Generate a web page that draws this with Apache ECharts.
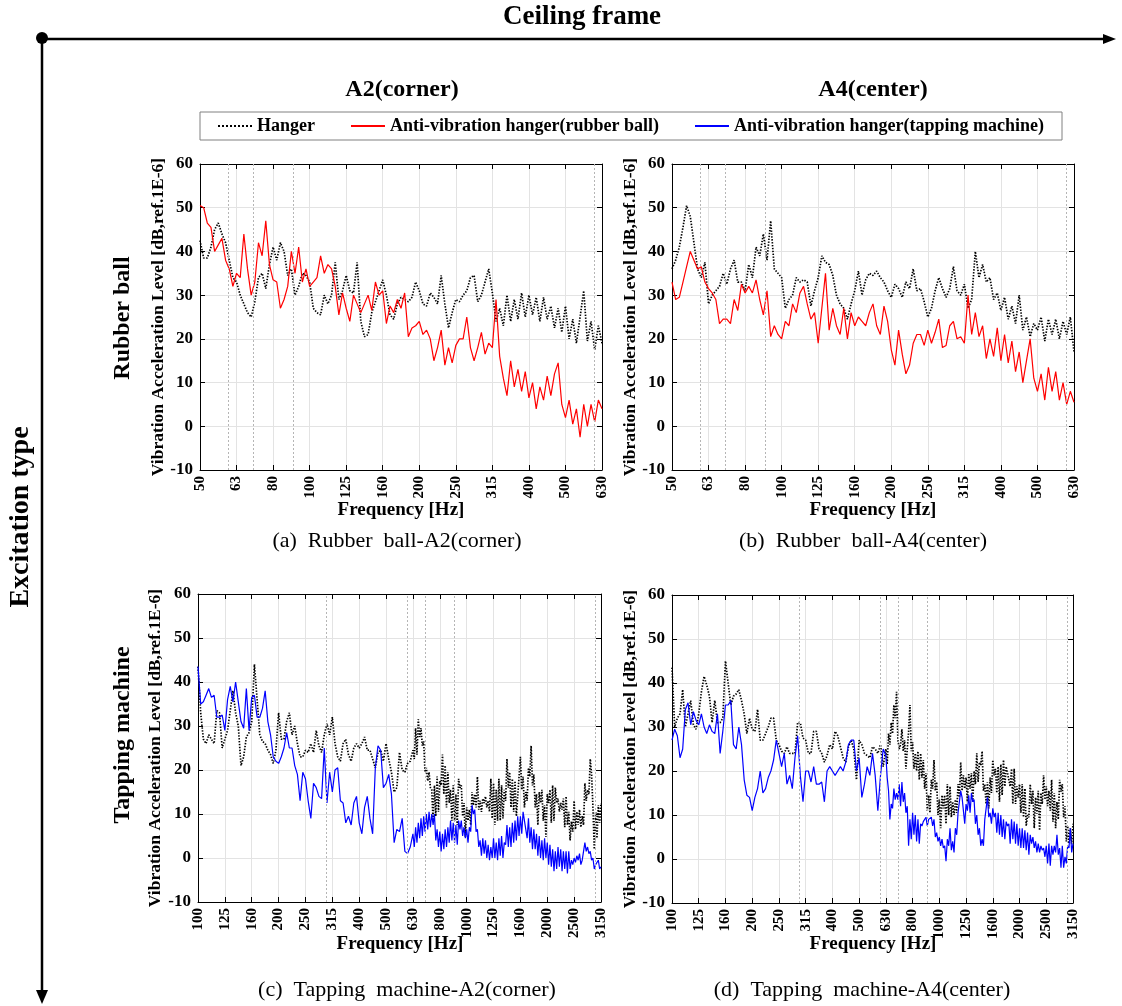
<!DOCTYPE html>
<html><head><meta charset="utf-8">
<script src="https://cdn.jsdelivr.net/npm/echarts@6/dist/echarts.min.js"></script>
<style>html,body{margin:0;padding:0;background:#fff}#c{width:1122px;height:1006px}</style>
</head><body><div id="c"></div>
<script>
// Tick labels (1/3-octave centre frequencies)
const ticksRubber = ['50','63','80','100','125','160','200','250','315','400','500','630'];
const ticksTapping = ['100','125','160','200','250','315','400','500','630','800','1000','1250','1600','2000','2500','3150'];
// minor (dotted) log-grid frequencies, Hz
const minorRubber = [60,70,90,600];
const minorTapping = [300,600,700,900,3000];
// values are read at evenly spaced positions inside each 1/3-octave band
const LOW_PER_BAND = 10;      // samples per band (whole top panels, bottom panels below 630 Hz)
const HIGH_PER_BAND = 20;     // samples per band (bottom panels from 630 Hz)
const HIGH_FROM_BAND = 8;     // band index of 630 Hz on the 100-3150 Hz axis

const seriesNames = ['Hanger','Anti-vibration hanger(rubber ball)','Anti-vibration hanger(tapping machine)'];

// (a) Rubber ball - A2(corner)
const aHanger = [42.5,38.5,38.5,41,45,46.5,44,42,38,34,
 33,30,28,26,25,28.5,34,35,31.5,37,
 41,38,42,40,34.5,36,30,32,35,34.5,
 33,27,26,25.5,30,28,30,37.5,29,31,
 34.5,31,30.5,37.5,24,20.5,21,26,28.5,31,
 33.5,30,25.5,24.5,28,29.5,29,28.5,29.5,33,
 31,28,27.5,30.5,29.5,28,34.5,28,22.5,26,
 29,28.5,30,31,34,34.5,28.5,30,33,36,
 30.5,24,27,23,30,24,29,24.5,30.5,25,
 30,25.5,29.5,24,29.5,24.5,27.5,22.5,27,21.5,
 27.5,20,24.5,19,25,31,19.5,24,17.5,23,
 19];
const aRubber = [50.5,50,46.5,45.5,40,41.5,43,38,36,32,
 35,34,44,36,30,33,42,39,47,37,
 33.5,33,27,29,32,40,35,41,33,36,
 32,33,34,39,35,37,36,32,25.5,30.5,
 27,24,30,28,26,28,30,26.5,33,30,
 31,23.5,27.5,26,29,27,30.5,20.5,22.5,23,
 24,21,22,20,15,18,22,14,18,14.5,
 18.5,20,20,25,18,15,18,21.5,16.5,19,
 18,29,16,11,7,15,9,13,8,12.5,
 6.5,10,4,9,6,11.5,7,12,14.5,5,
 2,6,0.5,4,-2.5,5,0,5,1,6,
 4];
// (b) Rubber ball - A4(center)
const bHanger = [36,38,41,45.5,50.5,48,42,36,34,37.5,
 28,30,31,32,35,32.5,36,38,33,33,
 31,37,34,41,39,44,38,47,36,35,
 34,27,29,30,34,33,33.5,33,27.5,31,
 34,39,37.5,37,34.5,30,28,27,24.5,28,
 31,35.5,30,33.5,35,34.5,35.5,34,33,31,
 29.5,32.5,31.5,29.5,33,31.5,36,31,31.5,28.5,
 25,27,31,34,31.5,29.5,31.5,36.5,31,30,
 32.5,27,29,40,34,37,33,34,29,30.5,
 26.5,29.5,24.5,27.5,23.5,30,22,25,20.5,23.5,
 22,25,19.5,24.5,21,24.5,20,24,21,25,
 17];
const bRubber = [33,29,29.5,33,36.5,40,38,36,36.5,33,
 31.5,30.5,29,23.5,24.5,24.5,23.5,29,26.5,32.5,
 30.5,32,30.5,33.5,29,25.5,31,20.5,23,21,
 20,24,23,28,26,30.5,32,28,24.5,26,
 19,27,35,22,27,23,21,27,20,26,
 23,25,24,23,26,28,23,21,27.5,24,
 17.5,14,22,16.5,12,14,19,21,21,18.5,
 22,19,21.5,24.5,18,18.5,23,24,20,20.5,
 19,30,21,26,20.5,23,15.5,20,16,22.5,
 15,21,14.5,19.5,12.5,17,10,15,20,11,
 8,12,6,13.5,8,12.5,6,10,5,8,
 5.5];
// (c) Tapping machine - A2(corner): 100-630 Hz part and 630-3150 Hz part
const cHangerLow = [43.5,33,27,26,28,27,26,33.5,33,25,
 27,29,33.5,38,33,30,21,23,27.5,28.5,
 31,44,36,28,26.5,26,24.5,23.5,21.5,24.5,
 33,27,27,31,33,28,30,26,23,23,
 24.5,24,26,24,29,25.5,24,28,30.5,28,
 32,26,23,22,26,27,23.5,22,25,26,
 25,26,27.5,24.5,24.5,22.5,20.5,24,24.5,22,
 26,22.5,19.5,15,16,24,20,19.5,21.5,22];
const cHangerHigh = [24.5,22.5,29.5,23.5,31.5,27.5,29.5,25.5,26.5,19.5,
 20.5,17.5,19.5,16,15.5,8.5,16.5,9.5,18.5,10.5,
 17.5,16.5,23.5,14.5,21,11.5,19.5,12.5,15.5,8.5,
 16.5,8.5,14.5,7.5,18,16,16.5,9.5,12.5,4.8,
 11.5,8.5,11,7.5,15,12,14.5,11.5,18.5,11,
 13,10.5,13.5,12.5,14,11.5,13,10.5,18,9,
 17,7.5,15.5,8.5,18,8.5,16.5,9,15.5,13,
 22.5,16,19.5,11.5,18,10.5,17.5,9.5,14,14,
 23,15.5,18.5,11.5,15,13,20.5,18.5,25.5,16.5,
 19,11.5,14.5,7.5,15,12.5,15.5,8.5,12,4.8,
 14.5,12.5,15.5,8,16.5,8.5,16,12.5,13.5,10.5,
 12.5,11,13.5,7,14,7.5,10.5,4,8.3,6,
 13,6.5,10.5,7.5,11,7,9.5,7.5,17,13,
 15.5,14.5,22.5,19,11.5,2,10.5,4.5,12,8,
 12.5];
const cTappingLow = [43.5,35,35.5,37,38.5,36.5,37,32,32,32.5,
 29,36,39,35.5,40,35.5,31,29.5,38.5,29,
 36.5,37,32,32,34,38,31,28,23,22,
 21.5,23,25,28.5,25,25,21,19,13,19.5,
 18,13,9,17,16,14,13.5,25,12.5,19.5,
 15,20,20.5,13,12.5,8,9.5,7.5,12.5,14,
 8,5.5,11.5,14,9,5.5,20.5,25.5,24.5,16,
 17,19,14.5,3.5,6.5,6,9,1.5,1,2.5];
const cTappingHigh = [5.5,2.5,7,3.5,8,4.5,9,5,9.5,6,
 10,6.5,10.5,7,10,7.5,10,4,6.5,2.5,
 6,1.5,5.5,2,6.5,2.5,7,3.5,8.5,4,
 8,3.5,7.5,3,8.5,6.5,8.5,5,7,4.5,
 6.5,3.5,7,6,12,10,11,6,6.5,2.5,
 4,0.5,4.5,1,4,0,3,-0.5,2.5,0,
 4.5,0,3.5,-0.5,4.5,0.5,5,0,3.5,3,
 7.5,2.5,7,2.5,8,3.5,8.5,4,9.5,5,
 9.5,5.5,10.5,8.5,8.5,4.5,9,3.5,7,2,
 6.5,2,5.5,0.5,5,0,4,-0.5,4.5,0,
 3.5,-1.5,3,-2,2,-3,1.5,-2.5,2.5,-2,
 2,-3,1.5,-2.5,1.5,-3.5,1.5,-2.5,-0.5,-1.5,
 0,-1,0.5,-0.5,1,-1.5,-0.5,-0.5,3.5,1.5,
 2.5,1,1.5,-0.5,0,-2.5,-1.5,-1.5,-0.5,-2.5,
 -2];
// (d) Tapping machine - A4(center)
const dHangerLow = [43.5,30,32,33,38.5,30,33,36,30.5,29.5,
 33,38,41.5,39.5,37,31,36,31,31,32,
 45,40,35,37,37.5,38.5,36,33,28.5,32,
 29.5,29,34,27,27,28.5,30,32,32,27,
 26,24.5,24,25.5,24,24,24,31,31,27.5,
 27,24,24,29,29,25,24,22,23.5,26,
 25,29,28,25.5,23,22,25.5,27,25,18,
 27,26,24,23.5,23,25.5,25,24,26,21];
const dHangerHigh = [25,21.5,28.5,26,31,28.5,35,32,38,27,
 25,26,29.5,24.5,27,20.5,25,29,35,24.5,
 26.5,20.5,24,20,24.5,18,24,18.5,22.5,16,
 19.5,11,14.5,10.5,18,16,22.5,15.5,17.5,10,
 13.5,7,14.5,11.5,14.5,8,17,10,16.5,9.5,
 13,10,13.5,10.5,17,14,22,15.5,19,16,
 18.5,13,19.5,16,19.5,13,20,17,24,17.5,
 22,21.3,24.5,15.5,17,12.5,17.5,11.5,18.5,15,
 22.5,19,20.5,15,21,13,21.5,14.5,22.5,16.5,
 21,19.5,19.5,16.5,20.5,12.5,20.5,12.5,16.5,14,
 17,10.5,17,9.5,16,7.5,10,9.5,17,12.5,
 15.5,7,14,10.3,15.5,6.5,15,12.5,19,13.5,
 16.5,12,15.5,11,18,8.5,15,7,13,9,
 18,15.3,17,9.5,12,4,7.5,3.5,7,3.5,
 8];
const dTappingLow = [27,29.5,28,23,25,34,35.5,30.5,33.5,31.5,
 30.5,33,30,28.5,30.5,29,28.5,33,24,29,
 35,35,36,26,25,30,26,18,14.5,14,
 11,14,16,20,15,16,18.5,20,22.5,27,
 24,21,24,17,19,16,23,28,19,13,
 20,20,17.5,21,17,17,17.5,13,20,21,
 20,19,20,21,20,22,26,27,27,20,
 23,14,17,21,19,24,19,11,19,25];
const dTappingHigh = [23.5,18.5,15.5,9,12.5,11.5,16,13.5,15,13.5,
 17,12,17.5,13,15,10.5,12,3,9,4.5,
 10.5,5.5,10,4,9,3.5,8,7.5,8.5,8.5,
 9.5,7.5,9,9,9.5,7.5,9,5,6,4,
 5,3,4.5,2.5,3,-0.5,4.5,3,7,2,
 4,1.5,7,5.5,10.5,10.5,15.5,14,14,8,
 12.5,11,14.5,10.5,15,13,13.5,8,10,5.5,
 7,3,4.5,3,9,9,14,9.5,10.5,8,
 11.5,9.5,10.5,6,10.5,5.5,10,5,9,4.5,
 8.5,7.5,8,3.5,9,4.5,8.5,3.5,8,3,
 7,2.5,7,2.5,6.5,2,6,1,5.5,3.5,
 5,2.5,4,1.5,3.5,1.5,3,2,2.5,0.5,
 3,-1,3.5,-1.5,3,1,3,1.5,5.5,1,
 2.5,-2,3,-2,0.5,-1,3,2.5,7,1.5,
 3.5];

const FF = "'Liberation Serif','Times New Roman',serif";
const seg = (from, perBand, values) => values.map((v,i)=>[from + i/perBand, v]);
const panels = [
  {grid:{left:200,top:164,width:402,height:306}, ticks:ticksRubber, minor:minorRubber, logStart:17,
   hanger:seg(0,LOW_PER_BAND,aHanger), treated:seg(0,LOW_PER_BAND,aRubber), tName:seriesNames[1], tColor:'#ff0000'},
  {grid:{left:672,top:164,width:402,height:306}, ticks:ticksRubber, minor:minorRubber, logStart:17,
   hanger:seg(0,LOW_PER_BAND,bHanger), treated:seg(0,LOW_PER_BAND,bRubber), tName:seriesNames[1], tColor:'#ff0000'},
  {grid:{left:198,top:594,width:403,height:308}, ticks:ticksTapping, minor:minorTapping, logStart:20,
   hanger:seg(0,LOW_PER_BAND,cHangerLow).concat(seg(HIGH_FROM_BAND,HIGH_PER_BAND,cHangerHigh)),
   treated:seg(0,LOW_PER_BAND,cTappingLow).concat(seg(HIGH_FROM_BAND,HIGH_PER_BAND,cTappingHigh)),
   tName:seriesNames[2], tColor:'#0000ff'},
  {grid:{left:672,top:595,width:401,height:308}, ticks:ticksTapping, minor:minorTapping, logStart:20,
   hanger:seg(0,LOW_PER_BAND,dHangerLow).concat(seg(HIGH_FROM_BAND,HIGH_PER_BAND,dHangerHigh)),
   treated:seg(0,LOW_PER_BAND,dTappingLow).concat(seg(HIGH_FROM_BAND,HIGH_PER_BAND,dTappingHigh)),
   tName:seriesNames[2], tColor:'#0000ff'}
];

const grid=[], xAxis=[], yAxis=[], series=[];
const tick = {inside:true, length:5, lineStyle:{color:'#000',width:1}};
const axLine = {show:true, onZero:false, lineStyle:{color:'#000',width:1}};
panels.forEach((p,k)=>{
  grid.push(Object.assign({containLabel:false}, p.grid));
  const nb = p.ticks.length-1;
  xAxis.push({gridIndex:k, type:'value', min:0, max:nb, interval:1, position:'bottom',
    axisLine:axLine, axisTick:tick,
    axisLabel:{rotate:90, margin:6, fontFamily:FF, fontWeight:'bold', fontSize:15, color:'#000',
      formatter:(v)=>p.ticks[Math.round(v)]},
    splitLine:{show:true, lineStyle:{color:'#e3e3e3', width:1}}});
  xAxis.push({gridIndex:k, type:'value', min:0, max:nb, interval:1, position:'top',
    axisLine:axLine, axisTick:tick, axisLabel:{show:false}, splitLine:{show:false}});
  yAxis.push({gridIndex:k, type:'value', min:-10, max:60, interval:10, position:'left',
    axisLine:axLine, axisTick:tick,
    axisLabel:{margin:7, fontFamily:FF, fontWeight:'bold', fontSize:17, color:'#000'},
    splitLine:{show:true, lineStyle:{color:'#e3e3e3', width:1}}});
  yAxis.push({gridIndex:k, type:'value', min:-10, max:60, interval:10, position:'right',
    axisLine:axLine, axisTick:tick, axisLabel:{show:false}, splitLine:{show:false}});
  series.push({name:seriesNames[0], type:'line', xAxisIndex:2*k, yAxisIndex:2*k,
    data:p.hanger, symbol:'none', showSymbol:false, z:2,
    lineStyle:{color:'#000', width:1.7, type:[1.4,1.5]}, itemStyle:{color:'#000'},
    markLine:{silent:true, symbol:['none','none'], label:{show:false}, animation:false,
      lineStyle:{type:[2,2], color:'#b5b5b5', width:1},
      data:p.minor.map(f=>({xAxis:10*Math.log10(f)-p.logStart}))}});
  series.push({name:p.tName, type:'line', xAxisIndex:2*k, yAxisIndex:2*k,
    data:p.treated, symbol:'none', showSymbol:false, z:3,
    lineStyle:{color:p.tColor, width:1.2}, itemStyle:{color:p.tColor}});
});

// legend icons: dotted bar for Hanger, solid bars for the others
let dots=''; for (let k=0;k<9;k++) dots += 'M'+(k*4)+',0h2v2h-2z';
const dotIcon = 'path://'+dots;
const barIcon = 'path://M0,0h34v2h-34z';

const txt = (text, x, y, font, rot) => ({type:'text', x, y, rotation:rot||0, silent:true,
  style:{text, font, fill:'#000', textAlign:'center', textVerticalAlign:'middle', verticalAlign:'middle'}});
const R = Math.PI/2;
const graphic = [
  {type:'line', shape:{x1:42,y1:39,x2:1108,y2:39}, style:{stroke:'#000', lineWidth:2.5}},
  {type:'polygon', shape:{points:[[1103,34],[1116,39],[1103,44]]}, style:{fill:'#000'}},
  {type:'line', shape:{x1:42,y1:39,x2:42,y2:993}, style:{stroke:'#000', lineWidth:2.5}},
  {type:'polygon', shape:{points:[[36,990],[42,1004],[48,990]]}, style:{fill:'#000'}},
  {type:'circle', shape:{cx:42,cy:38,r:6}, style:{fill:'#000'}},
  txt('Ceiling frame', 582, 17, 'bold 27px '+FF),
  txt('A2(corner)', 402, 90, 'bold 24px '+FF),
  txt('A4(center)', 873, 90, 'bold 24px '+FF),
  txt('Excitation type', 21, 517, 'bold 28px '+FF, R),
  txt('Rubber ball', 123, 318, 'bold 24px '+FF, R),
  txt('Tapping machine', 123, 735, 'bold 24px '+FF, R),
  txt('Vibration Acceleration Level [dB,ref.1E-6]', 158, 317, 'bold 17.5px '+FF, R),
  txt('Vibration Acceleration Level [dB,ref.1E-6]', 630, 317, 'bold 17.5px '+FF, R),
  txt('Vibration Acceleration Level [dB,ref.1E-6]', 155, 748, 'bold 17.5px '+FF, R),
  txt('Vibration Acceleration Level [dB,ref.1E-6]', 630, 749, 'bold 17.5px '+FF, R),
  txt('Frequency [Hz]', 401, 510, 'bold 19px '+FF),
  txt('Frequency [Hz]', 873, 510, 'bold 19px '+FF),
  txt('Frequency [Hz]', 400, 944, 'bold 19px '+FF),
  txt('Frequency [Hz]', 873, 944, 'bold 19px '+FF),
  txt('(a)  Rubber  ball-A2(corner)', 397, 541, '22px '+FF),
  txt('(b)  Rubber  ball-A4(center)', 863, 541, '22px '+FF),
  txt('(c)  Tapping  machine-A2(corner)', 407, 990, '22px '+FF),
  txt('(d)  Tapping  machine-A4(center)', 862, 990, '22px '+FF)
];

const chart = echarts.init(document.getElementById('c'), null, {renderer:'canvas'});
chart.setOption({
  animation:false, backgroundColor:'#fff',
  legend:{data:[{name:seriesNames[0], icon:dotIcon},{name:seriesNames[1], icon:barIcon},{name:seriesNames[2], icon:barIcon}],
    left:200, top:112, padding:[5,18], itemGap:36, itemWidth:34, itemHeight:2,
    borderColor:'#808080', borderWidth:1, selectedMode:false,
    textStyle:{fontFamily:FF, fontWeight:'bold', fontSize:18, color:'#000'}},
  grid, xAxis, yAxis, series, graphic
});
</script></body></html>
